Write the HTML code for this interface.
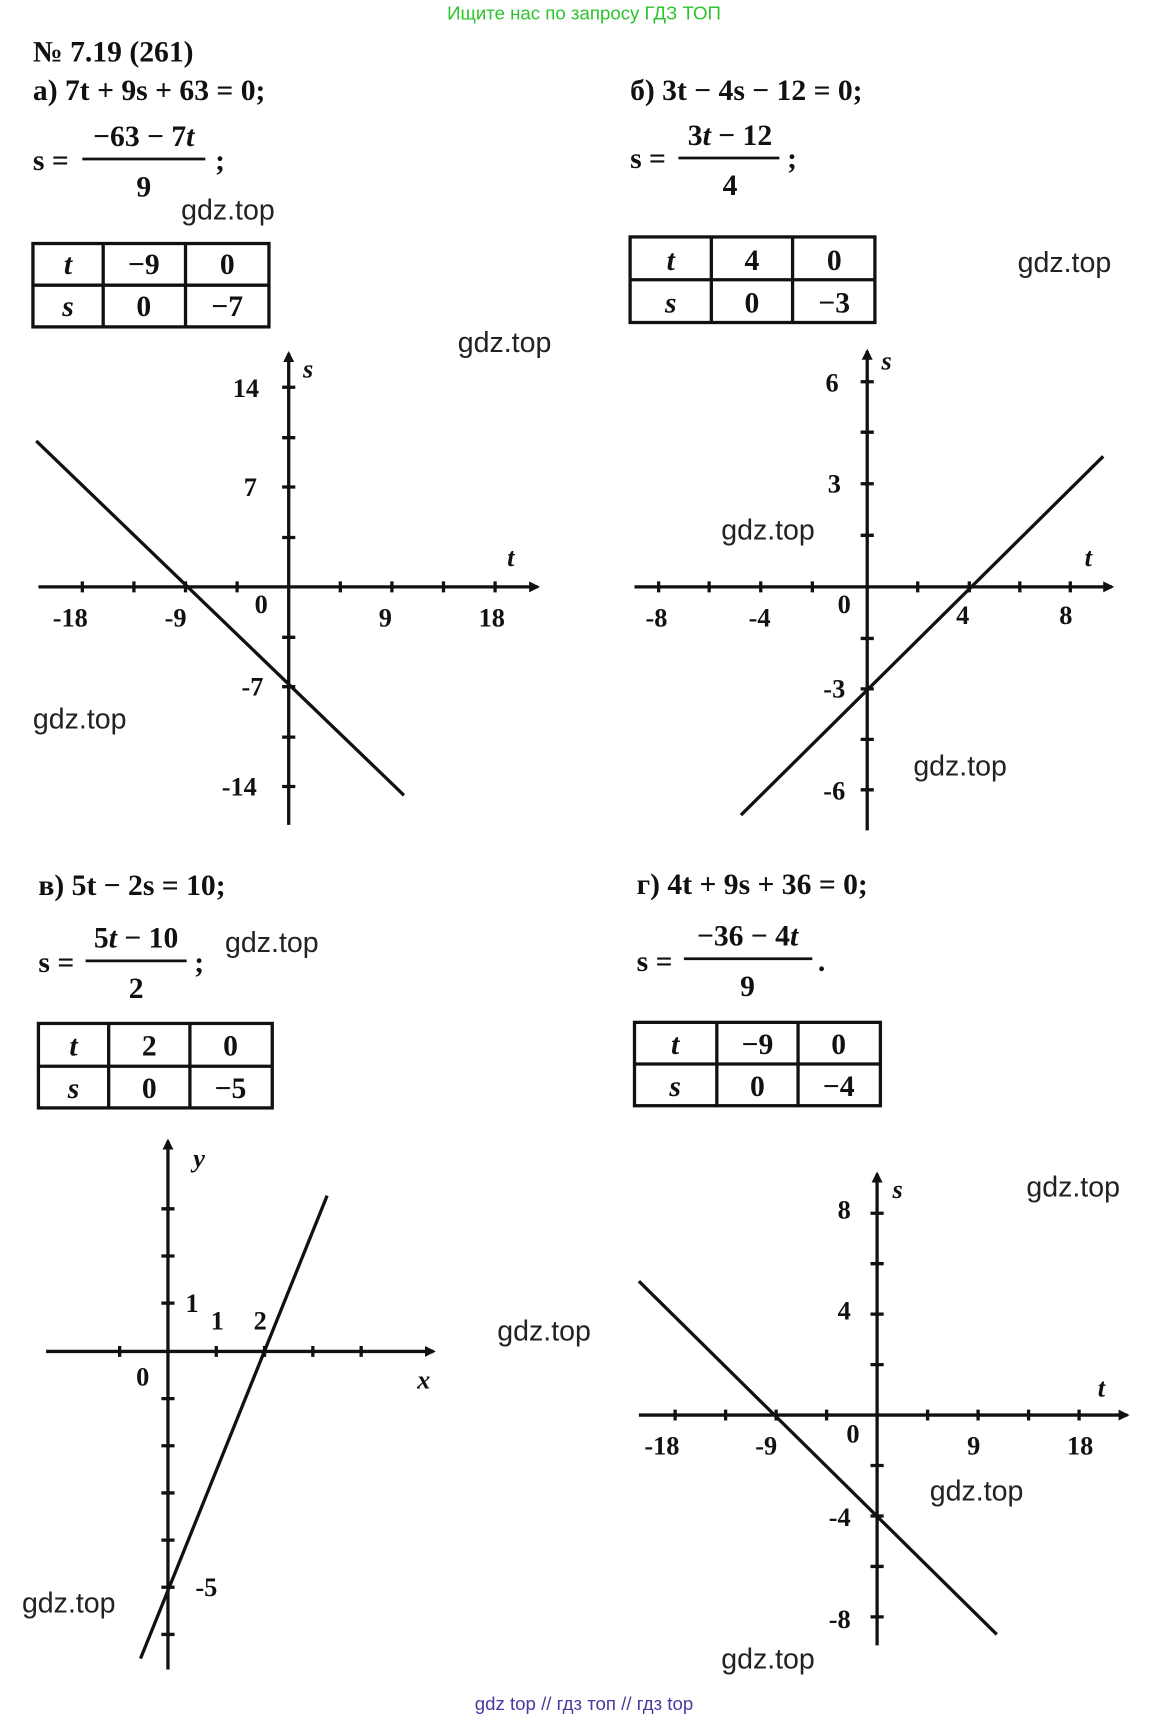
<!DOCTYPE html>
<html><head><meta charset="utf-8"><style>
html,body{margin:0;padding:0;background:#fff;width:1168px;height:1720px;overflow:hidden}
svg{display:block}
.m{font-family:"Liberation Serif","DejaVu Serif",serif;font-weight:bold;font-size:27px;fill:#111}
.i{font-style:italic}
.w{font-family:"Liberation Sans","DejaVu Sans",sans-serif;font-size:26px;fill:#222}
.l{font-family:"Liberation Serif",serif;font-weight:bold;font-size:24px;fill:#111}
</style></head><body>
<svg width="1168" height="1720" viewBox="0 0 1064 1568" preserveAspectRatio="none" xmlns="http://www.w3.org/2000/svg">
<defs><marker id="ar" markerWidth="10" markerHeight="10" refX="8" refY="5" orient="auto" markerUnits="userSpaceOnUse"><path d="M0,0 L10,5 L0,10 Z" fill="#111"/></marker></defs>
<text x="532" y="18" text-anchor="middle" font-family="Liberation Sans,sans-serif" font-size="17" fill="#2cc42c">Ищите нас по запросу ГДЗ ТОП</text>
<text x="30" y="56" class="m">№ 7.19 (261)</text>
<text x="30" y="91" class="m">а) 7t + 9s + 63 = 0;</text>
<text x="30" y="155" class="m">s =</text>
<text x="131" y="133" class="m" text-anchor="middle">−63 − 7<tspan class="i">t</tspan></text>
<line x1="75" y1="145" x2="187" y2="145" stroke="#111" stroke-width="2.5"/>
<text x="131" y="179" class="m" text-anchor="middle">9</text>
<text x="196" y="155" class="m">;</text>
<text x="574" y="91" class="m">б) 3t − 4s − 12 = 0;</text>
<text x="574" y="153" class="m">s =</text>
<text x="665" y="132" class="m" text-anchor="middle">3<tspan class="i">t</tspan> − 12</text>
<line x1="618" y1="144" x2="710" y2="144" stroke="#111" stroke-width="2.5"/>
<text x="665" y="178" class="m" text-anchor="middle">4</text>
<text x="717" y="153" class="m">;</text>
<text x="35" y="816" class="m">в) 5t − 2s = 10;</text>
<text x="35" y="886" class="m">s =</text>
<text x="124" y="864" class="m" text-anchor="middle">5<tspan class="i">t</tspan> − 10</text>
<line x1="78" y1="876" x2="170" y2="876" stroke="#111" stroke-width="2.5"/>
<text x="124" y="910" class="m" text-anchor="middle">2</text>
<text x="177" y="886" class="m">;</text>
<text x="580" y="815" class="m">г) 4t + 9s + 36 = 0;</text>
<text x="580" y="885" class="m">s =</text>
<text x="681" y="862" class="m" text-anchor="middle">−36 − 4<tspan class="i">t</tspan></text>
<line x1="623" y1="874" x2="740" y2="874" stroke="#111" stroke-width="2.5"/>
<text x="681" y="908" class="m" text-anchor="middle">9</text>
<text x="745" y="885" class="m">.</text>

<g stroke="#111" stroke-width="3" fill="none">
<rect x="30" y="222" width="215" height="76"/><line x1="94" y1="222" x2="94" y2="298"/><line x1="169" y1="222" x2="169" y2="298"/><line x1="30" y1="260" x2="245" y2="260"/>
<rect x="574" y="216" width="223" height="78"/><line x1="648" y1="216" x2="648" y2="294"/><line x1="722" y1="216" x2="722" y2="294"/><line x1="574" y1="255" x2="797" y2="255"/>
<rect x="35" y="933" width="213" height="77"/><line x1="99" y1="933" x2="99" y2="1010"/><line x1="173" y1="933" x2="173" y2="1010"/><line x1="35" y1="972" x2="248" y2="972"/>
<rect x="578" y="932" width="224" height="76"/><line x1="653" y1="932" x2="653" y2="1008"/><line x1="727" y1="932" x2="727" y2="1008"/><line x1="578" y1="970" x2="802" y2="970"/>
</g>
<g class="m" text-anchor="middle">
<text x="62" y="250" class="m i">t</text><text x="131" y="250">−9</text><text x="207" y="250">0</text>
<text x="62" y="288" class="m i">s</text><text x="131" y="288">0</text><text x="207" y="288">−7</text>
<text x="611" y="246" class="m i">t</text><text x="685" y="246">4</text><text x="760" y="246">0</text>
<text x="611" y="285" class="m i">s</text><text x="685" y="285">0</text><text x="760" y="285">−3</text>
<text x="67" y="962" class="m i">t</text><text x="136" y="962">2</text><text x="210" y="962">0</text>
<text x="67" y="1001" class="m i">s</text><text x="136" y="1001">0</text><text x="210" y="1001">−5</text>
<text x="615" y="961" class="m i">t</text><text x="690" y="961">−9</text><text x="764" y="961">0</text>
<text x="615" y="999" class="m i">s</text><text x="690" y="999">0</text><text x="764" y="999">−4</text>
</g>

<g stroke="#111" stroke-width="3">
<line x1="263" y1="752" x2="263" y2="322" marker-end="url(#ar)"/>
<line x1="35" y1="535" x2="490" y2="535" marker-end="url(#ar)"/>
<line x1="33" y1="402" x2="368" y2="725"/>
<path d="M75,530v10M122,530v10M169,530v10M216,530v10M310,530v10M357,530v10M404,530v10M451,530v10 M257,353h12M257,399h12M257,444h12M257,490h12M257,581h12M257,626h12M257,672h12M257,717h12"/>
</g>
<g class="l"><text x="212" y="362">14</text><text x="276" y="344" class="i">s</text><text x="222" y="452">7</text><text x="462" y="516" class="i">t</text>
<text x="48" y="571">-18</text><text x="150" y="571">-9</text><text x="232" y="559">0</text><text x="345" y="571">9</text><text x="436" y="571">18</text><text x="220" y="634">-7</text><text x="202" y="725">-14</text></g>

<g stroke="#111" stroke-width="3">
<line x1="790" y1="757" x2="790" y2="320" marker-end="url(#ar)"/>
<line x1="578" y1="535" x2="1013" y2="535" marker-end="url(#ar)"/>
<line x1="675" y1="743" x2="1005" y2="416"/>
<path d="M600,530v10M646,530v10M693,530v10M740,530v10M836,530v10M883,530v10M929,530v10M975,530v10 M784,348h12M784,394h12M784,441h12M784,488h12M784,582h12M784,628h12M784,674h12M784,720h12"/>
</g>
<g class="l"><text x="752" y="357">6</text><text x="803" y="337" class="i">s</text><text x="754" y="449">3</text><text x="988" y="516" class="i">t</text>
<text x="588" y="571">-8</text><text x="682" y="571">-4</text><text x="763" y="559">0</text><text x="871" y="569">4</text><text x="965" y="569">8</text><text x="750" y="636">-3</text><text x="750" y="729">-6</text></g>

<g stroke="#111" stroke-width="3">
<line x1="153" y1="1522" x2="153" y2="1040" marker-end="url(#ar)"/>
<line x1="42" y1="1232" x2="395" y2="1232" marker-end="url(#ar)"/>
<line x1="128" y1="1512" x2="298" y2="1090"/>
<path d="M109,1227v10M197,1227v10M241,1227v10M285,1227v10M329,1227v10 M147,1102h12M147,1145h12M147,1188h12M147,1275h12M147,1318h12M147,1361h12M147,1404h12M147,1447h12M147,1490h12"/>
</g>
<g class="l"><text x="176" y="1064" class="i">y</text><text x="380" y="1266" class="i">x</text><text x="124" y="1263">0</text><text x="169" y="1196">1</text><text x="192" y="1212">1</text><text x="231" y="1212">2</text><text x="178" y="1455">-5</text></g>

<g stroke="#111" stroke-width="3">
<line x1="799" y1="1500" x2="799" y2="1070" marker-end="url(#ar)"/>
<line x1="582" y1="1290" x2="1027" y2="1290" marker-end="url(#ar)"/>
<line x1="582" y1="1168" x2="908" y2="1490"/>
<path d="M615,1285v10M661,1285v10M707,1285v10M753,1285v10M845,1285v10M891,1285v10M937,1285v10M983,1285v10 M793,1106h12M793,1152h12M793,1198h12M793,1244h12M793,1336h12M793,1382h12M793,1428h12M793,1474h12"/>
</g>
<g class="l"><text x="763" y="1111">8</text><text x="813" y="1092" class="i">s</text><text x="763" y="1203">4</text><text x="1000" y="1273" class="i">t</text>
<text x="587" y="1326">-18</text><text x="688" y="1326">-9</text><text x="771" y="1315">0</text><text x="881" y="1326">9</text><text x="972" y="1326">18</text><text x="755" y="1391">-4</text><text x="755" y="1484">-8</text></g>

<g class="w">
<text x="165" y="200">gdz.top</text><text x="417" y="321">gdz.top</text><text x="927" y="248">gdz.top</text>
<text x="30" y="664">gdz.top</text><text x="657" y="492">gdz.top</text><text x="832" y="707">gdz.top</text>
<text x="205" y="868">gdz.top</text><text x="453" y="1222">gdz.top</text><text x="20" y="1470">gdz.top</text>
<text x="935" y="1091">gdz.top</text><text x="847" y="1368">gdz.top</text><text x="657" y="1521">gdz.top</text>
</g>
<text x="532" y="1559" text-anchor="middle" font-family="Liberation Sans,sans-serif" font-size="17" fill="#4a3aa0">gdz top  //  гдз топ  //  гдз top</text>
</svg>
</body></html>
